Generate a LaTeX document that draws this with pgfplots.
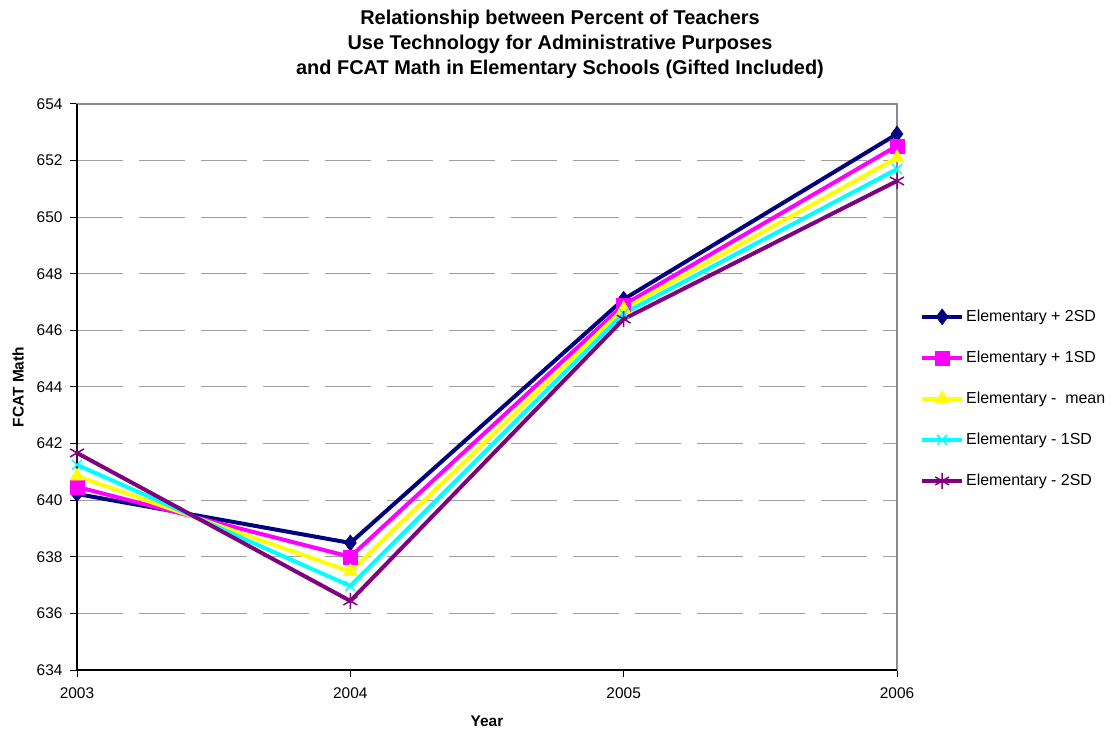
\documentclass[border=0pt]{standalone}
\usepackage{fontspec}
\setmainfont{Liberation Sans}
\usepackage{pgfplots}
\pgfplotsset{compat=1.18}

\definecolor{navyc}{RGB}{0,0,128}
\definecolor{magc}{RGB}{255,0,255}
\definecolor{yelc}{RGB}{255,255,0}
\definecolor{cyac}{RGB}{0,255,255}
\definecolor{purc}{RGB}{128,0,128}
\definecolor{gridc}{RGB}{160,160,160}
\definecolor{framec}{RGB}{140,140,140}

\begin{document}
\begin{tikzpicture}
\path[use as bounding box] (-77bp,-62bp) rectangle (1040bp,670bp);
\begin{axis}[
    at={(0,0)}, anchor=south west,
    scale only axis,
    width=820bp, height=566bp,
    xmin=2003, xmax=2006,
    ymin=634, ymax=654,
    xtick={2003,2004,2005,2006},
    ytick={634,636,...,654},
    /pgf/number format/1000 sep={},
    /pgf/number format/assume math mode=true,
    ticklabel style={font=\fontsize{15.5}{17}\selectfont},
    xticklabel style={yshift=-7bp},
    yticklabel style={xshift=-4bp},
    axis line style={framec, line width=1.5pt},
    tick pos=left,
    tick style={black, line width=1pt},
    major tick length=7bp,
    tick align=outside,
    ymajorgrids=true,
    y grid style={gridc, line width=1pt, dash pattern=on 46bp off 16bp},
    xlabel={\textbf{Year}},
    ylabel={\textbf{FCAT Math}},
    label style={font=\fontsize{15.5}{17}\selectfont},
    xlabel style={yshift=-11bp},
    ylabel style={yshift=6bp},
    every axis plot/.append style={line width=4bp},
    legend style={at={(1.028,0.479)}, anchor=west, draw=none,
        font=\fontsize{16}{18}\selectfont, row sep=24bp, inner sep=0pt},
    legend cell align=left,
    legend image code/.code={
        \draw[mark repeat=2,mark phase=2] plot coordinates {(0bp,0bp) (20bp,0bp) (40bp,0bp)};
    },
    clip=false,
]
\addplot[color=navyc, mark=diamond*, mark size=8bp, mark options={solid, line width=0.5pt}] coordinates {
    (2003,640.22) (2004,638.49) (2005,647.10) (2006,652.94)
};
\addplot[color=magc, mark=square*, mark size=7bp, mark options={solid, line width=0.5pt}] coordinates {
    (2003,640.47) (2004,638.00) (2005,646.90) (2006,652.52)
};
\addplot[color=yelc, mark=triangle*, mark size=8bp, mark options={solid, line width=0.5pt}] coordinates {
    (2003,640.85) (2004,637.48) (2005,646.76) (2006,652.10)
};
\addplot[color=cyac, mark=x, mark size=7bp, mark options={solid, line width=1.5pt}] coordinates {
    (2003,641.25) (2004,636.97) (2005,646.60) (2006,651.70)
};
\addplot[color=purc, mark=asterisk, mark size=8bp, mark options={solid, line width=1.5pt}] coordinates {
    (2003,641.67) (2004,636.44) (2005,646.40) (2006,651.28)
};
\legend{Elementary + 2SD, Elementary + 1SD, Elementary -\ \ mean, Elementary - 1SD, Elementary - 2SD}
\draw[black, line width=1.5pt] (rel axis cs:0,1) -- (rel axis cs:0,0) -- (rel axis cs:1,0);
\end{axis}
\node[align=center, font=\fontsize{20}{25}\selectfont\bfseries] at (483bp,626bp)
    {Relationship between Percent of Teachers\\Use Technology for Administrative Purposes\\and FCAT Math in Elementary Schools (Gifted Included)};
\end{tikzpicture}
\end{document}
